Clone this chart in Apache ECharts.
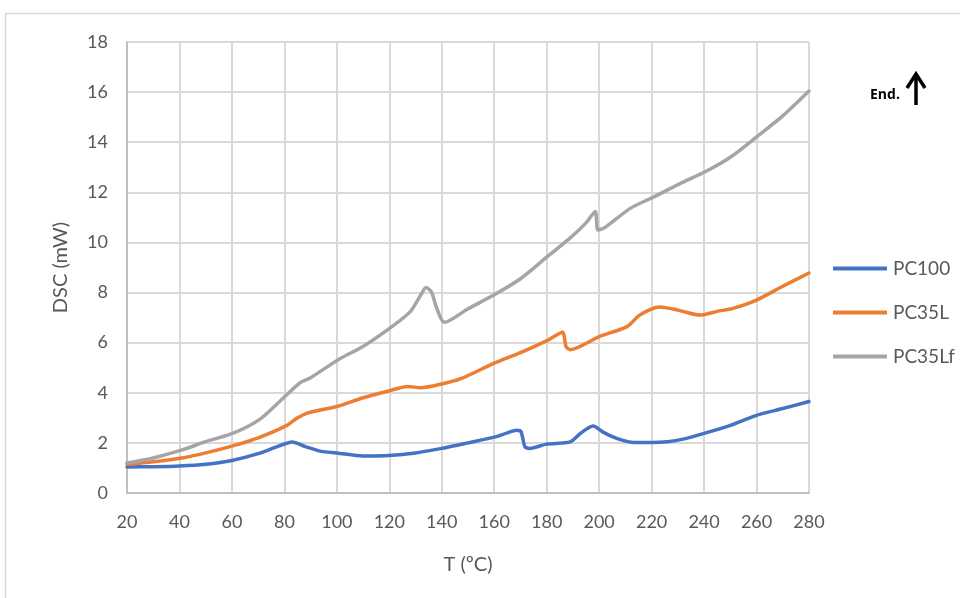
<!DOCTYPE html>
<html>
<head>
<meta charset="utf-8">
<script src="https://cdn.jsdelivr.net/npm/echarts@6/dist/echarts.min.js"></script>
<style>
  html, body { margin: 0; padding: 0; background: #fff; }
  #main { width: 960px; height: 598px; }
</style>
</head>
<body>
<div id="main"></div>
<script>
// 温度 (ºC) 与 DSC 读数 (mW)
var tPC100 = [20, 30, 40, 50, 60, 70, 78, 83, 88, 94, 100, 110, 120, 130, 140, 150, 160, 165, 168.5, 170.2, 171.7, 173.6, 180, 189, 193, 197.7, 201.5, 205, 209, 213, 220, 226, 232, 240, 250, 260, 270, 280];
var vPC100 = [1.04, 1.05, 1.08, 1.15, 1.3, 1.57, 1.88, 2.04, 1.85, 1.66, 1.6, 1.48, 1.5, 1.6, 1.78, 2.0, 2.23, 2.4, 2.5, 2.45, 1.85, 1.78, 1.95, 2.04, 2.39, 2.67, 2.43, 2.25, 2.1, 2.02, 2.02, 2.05, 2.15, 2.38, 2.7, 3.1, 3.37, 3.65];

var tPC35L = [20, 30, 41, 50, 61, 70, 81, 85, 89, 100, 110, 119, 127, 132, 140, 147, 160, 170, 180.5, 186, 187.4, 189, 200, 210.6, 215.5, 223, 230, 238.5, 245, 251, 260, 270, 280];
var vPC35L = [1.15, 1.25, 1.4, 1.6, 1.9, 2.2, 2.7, 3.0, 3.2, 3.45, 3.8, 4.05, 4.25, 4.2, 4.35, 4.55, 5.18, 5.6, 6.1, 6.42, 5.84, 5.72, 6.24, 6.64, 7.1, 7.42, 7.3, 7.1, 7.25, 7.37, 7.7, 8.25, 8.78];

var tPC35Lf = [20, 30, 41, 50, 61, 71, 81, 86, 90, 101, 110, 121, 128, 132, 134, 136, 138, 141, 150, 161, 170, 181, 189, 195, 198.5, 199.5, 202, 212, 220.5, 231, 240.4, 250, 260.6, 270, 280];
var vPC35Lf = [1.2, 1.4, 1.72, 2.05, 2.41, 2.97, 3.93, 4.4, 4.6, 5.35, 5.85, 6.64, 7.24, 7.9, 8.2, 8.04, 7.4, 6.81, 7.35, 7.97, 8.55, 9.5, 10.18, 10.78, 11.24, 10.5, 10.58, 11.37, 11.8, 12.36, 12.82, 13.4, 14.26, 15.05, 16.04];

var seriesNames = ['PC100', 'PC35L', 'PC35Lf'];
var seriesColors = ['#4472C4', '#ED7D31', '#A5A5A5'];

function pairs(t, v) {
    var out = [];
    for (var i = 0; i < t.length; i++) out.push([t[i], v[i]]);
    return out;
}

var txt = '#595959';
var fam = 'Lato, "Open Sans", sans-serif';

var chart = echarts.init(document.getElementById('main'));

var option = {
    backgroundColor: '#fff',
    animation: false,
    grid: { left: 127, right: 151, top: 42, bottom: 105 },
    legend: {
        orient: 'vertical',
        left: 828,
        top: 254,
        itemGap: 25,
        itemWidth: 54,
        itemHeight: 4,
        icon: 'rect',
        textStyle: { color: txt, fontSize: 19, fontFamily: fam, padding: [0, 0, 0, 1] },
        data: seriesNames
    },
    xAxis: {
        type: 'value',
        min: 20, max: 280, interval: 20,
        name: 'T (ºC)',
        nameLocation: 'middle',
        nameGap: 62,
        nameTextStyle: { color: txt, fontSize: 20, fontFamily: fam },
        axisLine: { lineStyle: { color: '#bfbfbf', width: 2 } },
        axisTick: { show: false },
        axisLabel: { color: txt, fontSize: 18, fontFamily: fam, margin: 20 },
        splitLine: { lineStyle: { color: '#d9d9d9', width: 2 } }
    },
    yAxis: {
        type: 'value',
        min: 0, max: 18, interval: 2,
        name: 'DSC (mW)',
        nameLocation: 'middle',
        nameGap: 56,
        nameTextStyle: { color: txt, fontSize: 20, fontFamily: fam },
        axisLine: { show: true, lineStyle: { color: '#bfbfbf', width: 2 } },
        axisTick: { show: false },
        axisLabel: { color: txt, fontSize: 18, fontFamily: fam, margin: 19 },
        splitLine: { lineStyle: { color: '#d9d9d9', width: 2 } }
    },
    series: [
        { name: seriesNames[0], data: pairs(tPC100, vPC100) },
        { name: seriesNames[1], data: pairs(tPC35L, vPC35L) },
        { name: seriesNames[2], data: pairs(tPC35Lf, vPC35Lf) }
    ].map(function (s, i) {
        s.type = 'line';
        s.smooth = 0.25;
        s.showSymbol = false;
        s.color = seriesColors[i];
        s.lineStyle = { width: 3.5, color: seriesColors[i], cap: 'round', join: 'round' };
        return s;
    }),
    graphic: [
        {
            type: 'rect', silent: true, z: -1,
            shape: { x: 5.5, y: 13.5, width: 1000, height: 1000 },
            style: { fill: 'none', stroke: '#d9d9d9', lineWidth: 1.5 }
        },
        {
            type: 'text', left: 870, top: 88,
            style: { text: 'End.', fill: '#000', font: 'bold 14px "Open Sans", sans-serif' }
        },
        {
            type: 'line',
            shape: { x1: 916, y1: 105, x2: 916, y2: 75 },
            style: { stroke: '#000', lineWidth: 3.5 }
        },
        {
            type: 'polyline',
            shape: { points: [[907, 88], [916, 74], [925, 88]] },
            style: { stroke: '#000', lineWidth: 3.5, fill: 'none' }
        }
    ]
};

chart.setOption(option);
</script>
</body>
</html>
